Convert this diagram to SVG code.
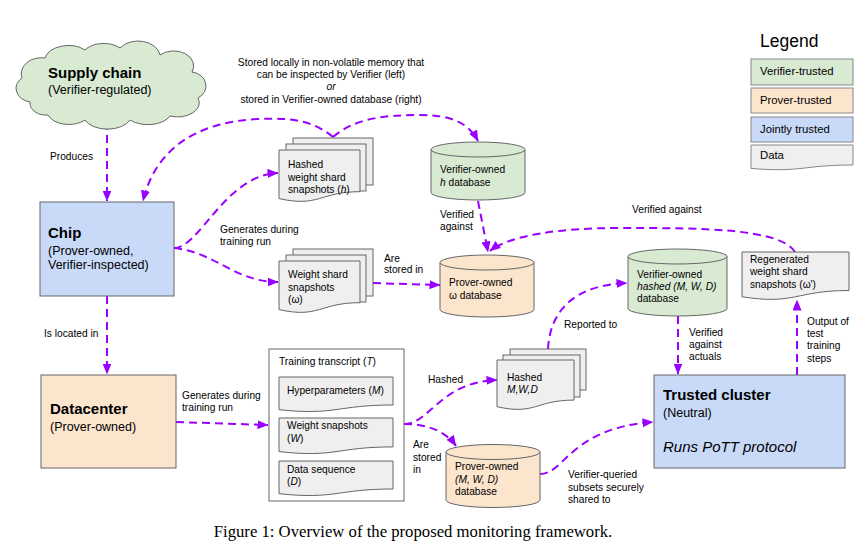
<svg xmlns="http://www.w3.org/2000/svg" width="862" height="555" viewBox="0 0 862 555">
<style>
text{font-family:"Liberation Sans",Arial,sans-serif;fill:#000}
.s{font-size:10.2px}
.n{font-size:12.5px}
.b{font-size:15px;font-weight:bold}
.it{font-style:italic}
.lg{font-size:11.3px}
.e{stroke:#9900ff;stroke-width:2;stroke-dasharray:8 5;fill:none}
.node{stroke:#666;stroke-width:1}
.g{fill:#d9ead3}.o{fill:#fce5cd}.bl{fill:#c9daf8}.d{fill:#efefef}.w{fill:#fff}
.lgb{stroke:#888;stroke-width:1}
</style>
<defs>
<marker id="ah" viewBox="0 0 11 9" refX="10.5" refY="4.5" markerWidth="11" markerHeight="9" orient="auto" markerUnits="userSpaceOnUse">
<path d="M0,0 L11,4.5 L0,9 Z" fill="#9900ff"/>
</marker>
</defs>
<rect width="862" height="555" fill="#fff"/>

<g id="connectors">
<path class="e" d="M107,122 V201" marker-end="url(#ah)"/>
<path class="e" d="M107,296 V374" marker-end="url(#ah)"/>
<path class="e" d="M174,248 C200,248 225,175 278,173" marker-end="url(#ah)"/>
<path class="e" d="M174,248 C215,252 235,282 278,282" marker-end="url(#ah)"/>
<path class="e" d="M333,137 C310,118 285,118 258,119 C195,122 155,150 143,201" marker-end="url(#ah)"/>
<path class="e" d="M333,137 C355,118 385,115 420,115 C450,115 468,122 478,141" marker-end="url(#ah)"/>
<path class="e" d="M478,201 L488,252" marker-end="url(#ah)"/>
<path class="e" d="M373,283 L440,285" marker-end="url(#ah)"/>
<path class="e" d="M795,252 C780,228 700,228 620,228 C560,228 510,235 490,251" marker-end="url(#ah)"/>
<path class="e" d="M176,422 L268,425" marker-end="url(#ah)"/>
<path class="e" d="M404,424 C430,424 440,382 497,380" marker-end="url(#ah)"/>
<path class="e" d="M404,424 C425,424 445,430 456,446" marker-end="url(#ah)"/>
<path class="e" d="M548,349 C550,310 575,285 627,283" marker-end="url(#ah)"/>
<path class="e" d="M678,316 V374" marker-end="url(#ah)"/>
<path class="e" d="M797,375 V300" marker-end="url(#ah)"/>
<path class="e" d="M540,474 C565,474 570,428 653,422" marker-end="url(#ah)"/>
</g>

<g id="supply-chain">
<path class="node g" d="M30,102 A18,14 0 0 1 22,78 A20,16 0 0 1 45,58 A24,16 0 0 1 85,50 A22,14 0 0 1 120,48 A22,16 0 0 1 160,55 A20,15 0 0 1 192,72 A16,14 0 0 1 198,98 A22,14 0 0 1 170,116 A24,14 0 0 1 130,120 A24,14 0 0 1 85,120 A22,14 0 0 1 48,115 A16,12 0 0 1 30,102 Z"/>
<text class="b" x="48" y="78">Supply chain</text>
<text class="n" x="48" y="94">(Verifier-regulated)</text>
</g>

<g id="chip">
<rect class="node bl" x="40" y="202" width="134" height="94"/>
<text class="b" x="48" y="238">Chip</text>
<text class="n" x="48" y="255">(Prover-owned,</text>
<text class="n" x="48" y="269">Verifier-inspected)</text>
</g>

<g id="datacenter">
<rect class="node o" x="41" y="375" width="135" height="93"/>
<text class="b" x="50" y="414">Datacenter</text>
<text class="n" x="50" y="431">(Prover-owned)</text>
</g>

<g id="hashed-snapshots">
<rect class="node d" x="293" y="138" width="80" height="47"/>
<rect class="node d" x="286" y="144" width="80" height="47"/>
<path class="node d" d="M279,150 H360 V191.7 C319.5,191.7 319.5,207.6 279,198.6 Z"/>
<text class="s" x="288" y="168">Hashed</text>
<text class="s" x="288" y="180.5">weight shard</text>
<text class="s" x="288" y="193">snapshots (<tspan class="it">h</tspan>)</text>
</g>

<g id="weight-snapshots">
<rect class="node d" x="293" y="249" width="80" height="47"/>
<rect class="node d" x="286" y="255" width="80" height="47"/>
<path class="node d" d="M279,261 H360 V302.7 C319.5,302.7 319.5,318.6 279,309.6 Z"/>
<text class="s" x="288" y="278">Weight shard</text>
<text class="s" x="288" y="291">snapshots</text>
<text class="s" x="288" y="303">(ω)</text>
</g>

<g id="verifier-h-db">
<path class="node g" d="M431,149.5 V192.5 A47,7.5 0 0 0 525,192.5 V149.5"/>
<ellipse class="node g" cx="478" cy="149.5" rx="47" ry="7.5"/>
<text class="s" x="440" y="173">Verifier-owned</text>
<text class="s" x="440" y="186"><tspan class="it">h</tspan> database</text>
</g>

<g id="prover-w-db">
<path class="node o" d="M440,262.5 V309.5 A47,7.5 0 0 0 534,309.5 V262.5"/>
<ellipse class="node o" cx="487" cy="262.5" rx="47" ry="7.5"/>
<text class="s" x="449" y="286">Prover-owned</text>
<text class="s" x="449" y="299">ω database</text>
</g>

<g id="verifier-hashed-db">
<path class="node g" d="M628,256.5 V308.5 A49.5,7.5 0 0 0 727,308.5 V256.5"/>
<ellipse class="node g" cx="677.5" cy="256.5" rx="49.5" ry="7.5"/>
<text class="s" x="637" y="278">Verifier-owned</text>
<text class="s it" x="637" y="290">hashed (M, W, D)</text>
<text class="s" x="637" y="302">database</text>
</g>

<g id="regenerated-snapshots">
<path class="node d" d="M742,252 H849 V290.5 C795.5,290.5 795.5,305.1 742,296.8 Z"/>
<text class="s" x="750" y="263">Regenerated</text>
<text class="s" x="750" y="275">weight shard</text>
<text class="s" x="750" y="288">snapshots (ω')</text>
</g>

<g id="training-transcript">
<rect class="node w" x="269" y="349" width="135" height="152"/>
<text class="s" x="279" y="365">Training transcript (<tspan class="it">T</tspan>)</text>
<path class="node d" d="M279,377 H393 V405 C336,405 336,415.7 279,409.7 Z"/>
<text class="s" x="287" y="394">Hyperparameters (<tspan class="it">M</tspan>)</text>
<path class="node d" d="M279,418 H393 V446.9 C336,446.9 336,457.9 279,451.6 Z"/>
<text class="s" x="287" y="429">Weight snapshots</text>
<text class="s" x="287" y="442">(<tspan class="it">W</tspan>)</text>
<path class="node d" d="M279,461 H393 V489 C336,489 336,499.7 279,493.7 Z"/>
<text class="s" x="287" y="473">Data sequence</text>
<text class="s" x="287" y="485">(<tspan class="it">D</tspan>)</text>
</g>

<g id="hashed-mwd">
<rect class="node d" x="510" y="349" width="76" height="41"/>
<rect class="node d" x="503" y="355" width="77" height="42"/>
<path class="node d" d="M497,360 H574 V400.1 C535.5,400.1 535.5,415.4 497,406.7 Z"/>
<text class="s" x="507" y="381">Hashed</text>
<text class="s it" x="507" y="393">M,W,D</text>
</g>

<g id="prover-mwd-db">
<path class="node o" d="M446,452 V500 A47,7.5 0 0 0 540,500 V452"/>
<ellipse class="node o" cx="493" cy="452" rx="47" ry="7.5"/>
<text class="s" x="455" y="470">Prover-owned</text>
<text class="s it" x="455" y="483">(M, W, D)</text>
<text class="s" x="455" y="495">database</text>
</g>

<g id="trusted-cluster">
<rect class="node bl" x="654" y="375" width="191" height="93"/>
<text class="b" x="663" y="400">Trusted cluster</text>
<text class="n" x="663" y="417">(Neutral)</text>
<text class="b it" x="663" y="452" style="font-weight:normal">Runs PoTT protocol</text>
</g>

<g id="labels">
<text class="s" x="331" y="66" text-anchor="middle">Stored locally in non-volatile memory that</text>
<text class="s" x="331" y="78" text-anchor="middle">can be inspected by Verifier (left)</text>
<text class="s it" x="331" y="90" text-anchor="middle">or</text>
<text class="s" x="331" y="103" text-anchor="middle">stored in Verifier-owned database (right)</text>
<text class="s" x="50" y="160">Produces</text>
<text class="s" x="44" y="337">Is located in</text>
<text class="s" x="220" y="233">Generates during</text>
<text class="s" x="220" y="245">training run</text>
<text class="s" x="384" y="262">Are</text>
<text class="s" x="384" y="273">stored in</text>
<text class="s" x="440" y="218">Verified</text>
<text class="s" x="440" y="230">against</text>
<text class="s" x="632" y="213">Verified against</text>
<text class="s" x="564" y="328">Reported to</text>
<text class="s" x="689" y="336">Verified</text>
<text class="s" x="689" y="348">against</text>
<text class="s" x="689" y="360">actuals</text>
<text class="s" x="807" y="325">Output of</text>
<text class="s" x="807" y="337">test</text>
<text class="s" x="807" y="349">training</text>
<text class="s" x="807" y="362">steps</text>
<text class="s" x="182" y="399">Generates during</text>
<text class="s" x="182" y="411">training run</text>
<text class="s" x="428" y="383">Hashed</text>
<text class="s" x="413" y="448">Are</text>
<text class="s" x="413" y="461">stored</text>
<text class="s" x="413" y="473">in</text>
<text class="s" x="568" y="478">Verifier-queried</text>
<text class="s" x="568" y="491">subsets securely</text>
<text class="s" x="568" y="503">shared to</text>
</g>

<g id="legend">
<text x="760" y="47" style="font-size:17.5px">Legend</text>
<rect class="lgb g" x="751" y="59" width="102" height="26"/>
<text class="lg" x="760" y="75">Verifier-trusted</text>
<rect class="lgb o" x="751" y="88" width="102" height="25"/>
<text class="lg" x="760" y="104">Prover-trusted</text>
<rect class="lgb bl" x="751" y="117" width="102" height="25"/>
<text class="lg" x="760" y="133">Jointly trusted</text>
<path class="lgb d" d="M751,145 H853 V165 C802,165 802,172.7 751,168.4 Z"/>
<text class="lg" x="760" y="159">Data</text>
</g>

<text x="413" y="537" text-anchor="middle" style="font-family:'Liberation Serif','Times New Roman',serif;font-size:16.7px">Figure 1: Overview of the proposed monitoring framework.</text>
</svg>
